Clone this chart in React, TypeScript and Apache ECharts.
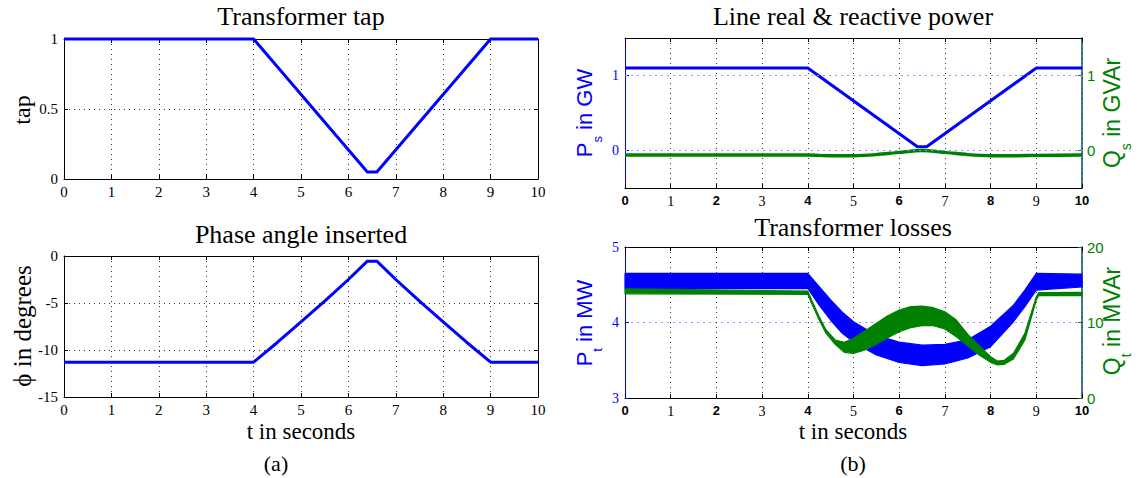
import React, { useEffect, useRef } from 'react';
import * as echarts from 'echarts';

// ---- data ----
// Transformer tap position over time
const tapTime = [0, 4, 6.4, 6.6, 9, 10];
const tapValue = [1, 1, 0.05, 0.05, 1, 1];

// Phase angle inserted (degrees)
const phaseTime = [0, 4, 4.5, 5, 5.5, 6, 6.4, 6.6, 7, 7.5, 8, 8.5, 9, 10];
const phaseDeg = [-11.3, -11.3, -9.2, -7.0, -4.8, -2.5, -0.55, -0.55, -2.5, -4.8, -7.0, -9.2, -11.3, -11.3];

// Line real power P_s (GW) and reactive power Q_s (GVAr)
const psTime = [0, 4, 6.4, 6.6, 9, 10];
const psValue = [1.1, 1.1, 0.05, 0.05, 1.1, 1.1];
const qsTime = [0, 4, 4.5, 5, 5.5, 6, 6.5, 7, 7.5, 8, 8.5, 9, 10];
const qsValue = [-0.06, -0.06, -0.07, -0.07, -0.055, -0.025, 0, -0.025, -0.055, -0.07, -0.07, -0.065, -0.06];

// Transformer losses: oscillation envelope of P_t (MW)
const ptTime = [0, 4, 4.25, 4.5, 4.75, 5, 5.5, 6, 6.5, 7, 7.5, 8, 8.5, 8.75, 9, 10];
const ptUpper = [4.65, 4.65, 4.475, 4.3, 4.14, 4.01, 3.83, 3.74, 3.7, 3.71, 3.77, 3.95, 4.23, 4.43, 4.65, 4.64];
const ptLower = [4.45, 4.45, 4.23, 4.03, 3.86, 3.74, 3.57, 3.47, 3.43, 3.45, 3.53, 3.68, 4.01, 4.21, 4.43, 4.47];

// Transformer losses: oscillation envelope of Q_t (MVAr)
const qtTime = [0, 4, 4.1, 4.25, 4.4, 4.6, 4.8, 5, 5.25, 5.5, 5.75, 6, 6.25, 6.5, 6.75, 7, 7.25, 7.5, 7.75, 8, 8.15, 8.3, 8.5, 8.75, 9, 9.05, 10];
const qtUpper = [14.45, 14.17, 12.76, 10.77, 9.01, 7.68, 7.37, 7.9, 8.87, 9.89, 10.9, 11.66, 12.1, 12.18, 11.96, 11.43, 10.33, 8.43, 6.93, 5.47, 4.9, 4.99, 5.92, 8.56, 13.42, 13.95, 14.0];
const qtLower = [13.8, 13.73, 12.32, 10.33, 8.56, 7.11, 6.05, 5.92, 6.36, 7.11, 7.99, 8.79, 9.32, 9.58, 9.58, 9.14, 8.12, 6.93, 5.7, 4.72, 4.37, 4.46, 5.17, 7.68, 12.98, 13.55, 13.55];

// ---- styling ----
const BLUE = '#0000ff';
const GREEN = '#008000';
const TEAL = '#0b4f6c';
const SERIF = '"Liberation Serif", "Times New Roman", serif';
const SANS = '"Liberation Sans", Arial, sans-serif';

const pairs = (ts: number[], vs: number[]) => ts.map((t, i) => [t, vs[i]]);

const measure = (txt: string, font: string) => {
  const ctx = document.createElement('canvas').getContext('2d');
  if (!ctx) return txt.length * 10;
  ctx.font = font;
  return ctx.measureText(txt).width;
};

// filled envelope between an upper and a lower curve, placed through the axes' scales
const bandSeries = (
  name: string,
  xAxisIndex: number,
  yAxisIndex: number,
  ts: number[],
  upper: number[],
  lower: number[],
  color: string
) => ({
  name,
  type: 'custom',
  xAxisIndex,
  yAxisIndex,
  data: ts.map((t, i) => [t, upper[i], lower[i]]),
  encode: { x: 0, y: [1, 2] },
  renderItem: (params: any, api: any) => {
    if (params.dataIndex !== 0) return null;
    const up = ts.map((t, i) => api.coord([t, upper[i]]));
    const lo = ts.map((t, i) => api.coord([t, lower[i]])).reverse();
    return {
      type: 'polygon',
      shape: { points: up.concat(lo) },
      style: { fill: color, stroke: color, lineWidth: 1.2, lineJoin: 'round' },
    };
  },
});

const xAxisBottom = (gridIndex: number, mixedLabels: boolean) => ({
  type: 'value',
  gridIndex,
  min: 0,
  max: 10,
  interval: 1,
  position: 'bottom',
  axisLine: { show: true, onZero: false, lineStyle: { color: '#000', width: 1 } },
  axisTick: { show: true, inside: true, length: 4, lineStyle: { color: '#000' } },
  axisLabel: mixedLabels
    ? {
        margin: 6,
        color: '#000',
        formatter: (v: number) => (v % 2 === 0 ? `{b|${v}}` : `{n|${v}}`),
        rich: {
          b: { fontFamily: SANS, fontWeight: 'bold', fontSize: 13, color: '#000' },
          n: { fontFamily: SERIF, fontSize: 14, color: '#000' },
        },
      }
    : { margin: 5, color: '#000', fontFamily: SERIF, fontSize: 15 },
  splitLine: { show: true, lineStyle: { color: '#333', type: [1, 4], width: 1 } },
});

const xAxisTop = (gridIndex: number) => ({
  type: 'value',
  gridIndex,
  min: 0,
  max: 10,
  interval: 1,
  position: 'top',
  axisLine: { show: true, onZero: false, lineStyle: { color: '#000', width: 1 } },
  axisTick: { show: true, inside: true, length: 4, lineStyle: { color: '#000' } },
  axisLabel: { show: false },
  splitLine: { show: false },
});

const yAxisLeftPlain = (gridIndex: number, min: number, max: number, interval: number) => ({
  type: 'value',
  gridIndex,
  min,
  max,
  interval,
  position: 'left',
  axisLine: { show: true, onZero: false, lineStyle: { color: '#000', width: 1 } },
  axisTick: { show: true, inside: true, length: 4, lineStyle: { color: '#000' } },
  axisLabel: { margin: 6, color: '#000', fontFamily: SERIF, fontSize: 15 },
  splitLine: { show: true, lineStyle: { color: '#333', type: [1, 4], width: 1 } },
});

const yAxisRightPlain = (gridIndex: number, min: number, max: number, interval: number) => ({
  type: 'value',
  gridIndex,
  min,
  max,
  interval,
  position: 'right',
  axisLine: { show: true, onZero: false, lineStyle: { color: '#000', width: 1 } },
  axisTick: { show: true, inside: true, length: 4, lineStyle: { color: '#000' } },
  axisLabel: { show: false },
  splitLine: { show: false },
});

export default function App() {
  const ref = useRef<HTMLDivElement>(null);

  useEffect(() => {
    document.body.style.margin = '0';
    if (!ref.current) return;
    const chart = echarts.init(ref.current, null, { renderer: 'svg' });

    // rotated axis names with a subscript, laid out bottom-to-top
    const subName = (
      cx: number,
      cy: number,
      main: string,
      sub: string,
      rest: string,
      size: number,
      color: string
    ) => {
      const subSize = Math.round(size * 0.6);
      const mainFont = `${size}px ${SANS}`;
      const subFont = `${subSize}px ${SANS}`;
      const w1 = measure(main, mainFont);
      const w2 = measure(sub, subFont);
      const w3 = measure(rest, mainFont);
      const y0 = cy + (w1 + w2 + w3) / 2;
      const base = { rotation: Math.PI / 2 };
      const st = (text: string, fs: number) => ({
        text,
        fill: color,
        fontFamily: SANS,
        fontSize: fs,
        align: 'left',
        verticalAlign: 'middle',
        textAlign: 'left',
        textVerticalAlign: 'middle',
      });
      return [
        { type: 'text', x: cx, y: y0, ...base, style: st(main, size) },
        { type: 'text', x: cx + size * 0.62, y: y0 - w1, ...base, style: st(sub, subSize) },
        { type: 'text', x: cx, y: y0 - w1 - w2, ...base, style: st(rest, size) },
      ];
    };

    const label = (x: number, y: number, text: string, size: number, rot = 0) => ({
      type: 'text',
      x,
      y,
      rotation: rot,
      style: {
        text,
        fill: '#000',
        fontFamily: SERIF,
        fontSize: size,
        align: 'center',
        verticalAlign: 'middle',
        textAlign: 'center',
        textVerticalAlign: 'middle',
      },
    });

    const option: any = {
      animation: false,
      backgroundColor: '#fff',
      grid: [
        { left: 64, top: 39, width: 474, height: 140, outerBoundsMode: 'none' },
        { left: 64, top: 256, width: 474, height: 141, outerBoundsMode: 'none' },
        { left: 625, top: 38, width: 457, height: 150, outerBoundsMode: 'none' },
        { left: 625, top: 247, width: 457, height: 151, outerBoundsMode: 'none' },
      ],
      xAxis: [
        xAxisBottom(0, false),
        xAxisTop(0),
        xAxisBottom(1, false),
        xAxisTop(1),
        xAxisBottom(2, true),
        xAxisTop(2),
        xAxisBottom(3, true),
        xAxisTop(3),
      ],
      yAxis: [
        yAxisLeftPlain(0, 0, 1, 0.5),
        yAxisRightPlain(0, 0, 1, 0.5),
        yAxisLeftPlain(1, -15, 0, 5),
        yAxisRightPlain(1, -15, 0, 5),
        {
          type: 'value',
          gridIndex: 2,
          min: -0.5,
          max: 1.5,
          interval: 0.5,
          position: 'left',
          axisLine: { show: true, onZero: false, lineStyle: { color: BLUE, width: 1 } },
          axisTick: { show: true, inside: true, length: 4, customValues: [0, 1], lineStyle: { color: BLUE } },
          axisLabel: { margin: 6, color: BLUE, fontFamily: SERIF, fontSize: 14, customValues: [0, 1] },
          splitLine: { show: false },
        },
        {
          type: 'value',
          gridIndex: 2,
          min: -0.5,
          max: 1.5,
          interval: 0.5,
          position: 'right',
          axisLine: { show: true, onZero: false, lineStyle: { color: TEAL, width: 1.5 } },
          axisTick: { show: true, inside: true, length: 4, customValues: [0, 1], lineStyle: { color: GREEN } },
          axisLabel: { margin: 5, color: GREEN, fontFamily: SANS, fontSize: 15, customValues: [0, 1] },
          splitLine: { show: false },
        },
        {
          type: 'value',
          gridIndex: 3,
          min: 3,
          max: 5,
          interval: 1,
          position: 'left',
          axisLine: { show: true, onZero: false, lineStyle: { color: BLUE, width: 1 } },
          axisTick: { show: true, inside: true, length: 4, lineStyle: { color: BLUE } },
          axisLabel: { margin: 6, color: BLUE, fontFamily: SERIF, fontSize: 14 },
          splitLine: { show: true, lineStyle: { color: '#8f8fff', type: [2, 4], width: 1 } },
        },
        {
          type: 'value',
          gridIndex: 3,
          min: 0,
          max: 20,
          interval: 10,
          position: 'right',
          axisLine: { show: true, onZero: false, lineStyle: { color: TEAL, width: 1.5 } },
          axisTick: { show: true, inside: true, length: 4, lineStyle: { color: GREEN } },
          axisLabel: { margin: 5, color: GREEN, fontFamily: SANS, fontSize: 15 },
          splitLine: { show: false },
        },
      ],
      series: [
        {
          name: 'tap',
          type: 'line',
          xAxisIndex: 0,
          yAxisIndex: 0,
          data: pairs(tapTime, tapValue),
          symbol: 'none',
          clip: false,
          lineStyle: { color: BLUE, width: 3 },
        },
        {
          name: 'phase',
          type: 'line',
          xAxisIndex: 2,
          yAxisIndex: 2,
          data: pairs(phaseTime, phaseDeg),
          symbol: 'none',
          clip: false,
          lineStyle: { color: BLUE, width: 3 },
        },
        {
          name: 'Ps',
          type: 'line',
          xAxisIndex: 4,
          yAxisIndex: 4,
          data: pairs(psTime, psValue),
          symbol: 'none',
          lineStyle: { color: BLUE, width: 3 },
          markLine: {
            silent: true,
            symbol: 'none',
            label: { show: false },
            lineStyle: { color: '#8f8fff', type: [2, 4], width: 1 },
            data: [{ yAxis: 0 }, { yAxis: 1 }],
          },
        },
        {
          name: 'Qs',
          type: 'line',
          xAxisIndex: 4,
          yAxisIndex: 5,
          data: pairs(qsTime, qsValue),
          symbol: 'none',
          smooth: 0.3,
          lineStyle: { color: GREEN, width: 3.5 },
        },
        bandSeries('Pt', 6, 6, ptTime, ptUpper, ptLower, BLUE),
        bandSeries('Qt', 6, 7, qtTime, qtUpper, qtLower, GREEN),
      ],
      graphic: [
        label(301, 16, 'Transformer tap', 26),
        label(301, 234, 'Phase angle inserted', 26),
        label(853, 16, 'Line real & reactive power', 26),
        label(853, 227, 'Transformer losses', 26),
        label(301, 431, 't in seconds', 23),
        label(853, 431, 't in seconds', 23),
        label(276, 463, '(a)', 22),
        label(853, 463, '(b)', 22),
        label(22, 110, 'tap', 24, Math.PI / 2),
        label(22, 326, 'ϕ in degrees', 25, Math.PI / 2),
        ...subName(584, 113, 'P', 's', ' in GW', 22, BLUE),
        ...subName(1112, 113, 'Q', 's', ' in GVAr', 23, GREEN),
        ...subName(584, 323, 'P', 't', ' in MW', 22, BLUE),
        ...subName(1112, 321, 'Q', 't', ' in MVAr', 23, GREEN),
      ],
    };

    chart.setOption(option);
    return () => chart.dispose();
  }, []);

  return <div ref={ref} style={{ width: 1139, height: 478, background: '#fff' }} />;
}
